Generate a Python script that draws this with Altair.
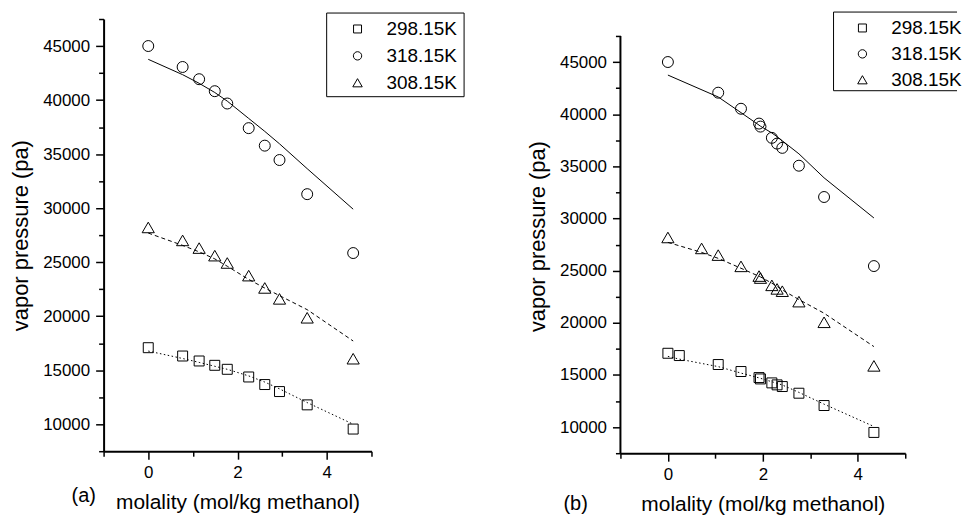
import altair as alt
import pandas as pd

SERIES = ["298.15K", "318.15K", "308.15K"]
SHAPES = ["square", "circle", "triangle-up"]
SIZES = [100, 121, 150]
LEG_SIZES = [64, 70, 90]
DASHES = [[1.5, 2.5], [], [4, 3]]

# ---- panel (a) ----
a_x = [0, 0.77, 1.14, 1.49, 1.77, 2.25, 2.61, 2.94, 3.56, 4.59]
a_298 = [17080, 16310, 15850, 15450, 15080, 14370, 13670, 13020, 11790, 9550]
a_318 = [45000, 43060, 41930, 40820, 39680, 37400, 35780, 34450, 31290, 25840]
a_308 = [28210, 27010, 26300, 25600, 24920, 23750, 22610, 21600, 19850, 16060]
a_fit_298 = [16770, 16080, 15720, 15360, 15080, 14470, 13900, 13270, 12000, 10000]
a_fit_318 = [43770, 42350, 41550, 40700, 39900, 38300, 37100, 35950, 33650, 29900]
a_fit_308 = [27690, 26550, 25950, 25300, 24620, 23400, 22600, 21900, 20600, 17700]

# ---- panel (b) ----
b_x_298 = [0, 0.24, 1.06, 1.54, 1.92, 1.95, 2.19, 2.30, 2.41, 2.76, 3.29, 4.34]
b_298 = [17080, 16860, 16000, 15330, 14750, 14620, 14240, 14050, 13890, 13250, 12070, 9490]
b_x_318 = [0, 1.06, 1.54, 1.92, 1.95, 2.19, 2.30, 2.41, 2.76, 3.29, 4.34]
b_318 = [45000, 42060, 40520, 39100, 38810, 37730, 37180, 36770, 35060, 32060, 25440]
b_x_308 = [0, 0.71, 1.06, 1.54, 1.92, 1.95, 2.19, 2.30, 2.41, 2.76, 3.29, 4.34]
b_308 = [28180, 27130, 26490, 25410, 24480, 24290, 23590, 23250, 23030, 22030, 20050, 15870]
b_fit_298 = [16780, 16520, 15800, 15180, 14720, 14680, 14350, 14200, 14040, 13330, 12200, 10060]
b_fit_318 = [43750, 41650, 40150, 38950, 38850, 38200, 37850, 37450, 36200, 33900, 30050]
b_fit_308 = [27710, 26750, 26180, 25230, 24460, 24400, 23800, 23500, 23150, 22230, 20920, 17720]

Y_TICKS = list(range(7500, 47501, 2500))
Y_AXIS_RANGE = [7500, 47500]
X_TICKS = [-1, 0, 1, 2, 3, 4, 5]
FONT = "Liberation Sans"


def xy_df(xs, ys):
    return pd.DataFrame({"x": xs, "y": ys})


def encodings(ymax, show_domain):
    xenc = alt.X(
        "x:Q",
        scale=alt.Scale(domain=[-1, 5], nice=False, zero=False),
        axis=alt.Axis(
            values=X_TICKS,
            labelExpr="(datum.value >= 0 && datum.value % 2 === 0) ? datum.label : ''",
            title="molality (mol/kg methanol)",
            tickSize={"condition": {"test": "datum.value % 2 === 0", "value": 8}, "value": 5},
            labelPadding=5,
            titlePadding=12,
        ),
    )
    yenc = alt.Y(
        "y:Q",
        scale=alt.Scale(domain=[7500, ymax], nice=False, zero=False),
        axis=alt.Axis(
            values=Y_TICKS,
            labelExpr="datum.value % 5000 === 0 ? format(datum.value, 'd') : ''",
            title="vapor pressure (pa)",
            tickSize={"condition": {"test": "datum.value % 5000 === 0", "value": 8}, "value": 5},
            labelPadding=6,
            titlePadding=10,
            domain=show_domain,
        ),
    )
    return xenc, yenc


def legend_layers(x0, x1, y0, y1, sym_x, txt_x, rows_y, full_box):
    one = pd.DataFrame({"k": [0]})
    layers = []
    if full_box:
        layers.append(
            alt.Chart(one).mark_rect(fill="white", stroke="black", strokeWidth=1).encode(
                x=alt.value(x0), x2=alt.value(x1), y=alt.value(y0), y2=alt.value(y1)
            )
        )
    else:
        layers.append(alt.Chart(one).mark_rule(color="black", strokeWidth=1).encode(
            x=alt.value(x0), x2=alt.value(x1), y=alt.value(y0)))
        layers.append(alt.Chart(one).mark_rule(color="black", strokeWidth=1).encode(
            x=alt.value(x0), x2=alt.value(x1), y=alt.value(y1)))
        layers.append(alt.Chart(one).mark_rule(color="black", strokeWidth=1).encode(
            x=alt.value(x0), y=alt.value(y0), y2=alt.value(y1)))
    for name, shp, sz, ry in zip(SERIES, SHAPES, LEG_SIZES, rows_y):
        d = pd.DataFrame({"t": [name]})
        layers.append(
            alt.Chart(d).mark_point(shape=shp, size=sz, color="black", strokeWidth=1,
                                    filled=False, opacity=1)
            .encode(x=alt.value(sym_x), y=alt.value(ry))
        )
        layers.append(
            alt.Chart(d).mark_text(align="left", baseline="middle", fontSize=19,
                                   font=FONT, color="black")
            .encode(x=alt.value(txt_x), y=alt.value(ry), text="t:N")
        )
    return layers


def panel(pts, fits, w, h, ymax, own_domain, leg, tag, tx, ty):
    xenc, yenc = encodings(ymax, not own_domain)
    layers = []
    for (xs, ys), dash in zip(fits, DASHES):
        kw = {"strokeDash": dash} if dash else {}
        layers.append(
            alt.Chart(xy_df(xs, ys)).mark_line(color="black", strokeWidth=1, **kw)
            .encode(x=xenc, y=yenc, order="x:Q")
        )
    for (xs, ys), shp, sz in zip(pts, SHAPES, SIZES):
        layers.append(
            alt.Chart(xy_df(xs, ys)).mark_point(shape=shp, size=sz, color="black",
                                                strokeWidth=1, filled=False, opacity=1)
            .encode(x=xenc, y=yenc)
        )
    if own_domain:
        dom = pd.DataFrame({"y": [Y_AXIS_RANGE[0]], "y2": [Y_AXIS_RANGE[1]]})
        layers.append(
            alt.Chart(dom).mark_rule(color="black", strokeWidth=2)
            .encode(x=alt.value(0), y=yenc, y2="y2:Q")
        )
    layers += legend_layers(*leg)
    layers.append(
        alt.Chart(pd.DataFrame({"t": [tag]})).mark_text(fontSize=20, font=FONT, color="black")
        .encode(x=alt.value(tx), y=alt.value(ty), text="t:N")
    )
    return alt.layer(*layers).properties(width=w, height=h)


left = panel(
    [(a_x, a_298), (a_x, a_318), (a_x, a_308)],
    [(a_x, a_fit_298), (a_x, a_fit_318), (a_x, a_fit_308)],
    269, 434, 47500, False,
    (224, 362, -6, 78, 255, 284, [10, 37, 64], True),
    "(a)", -20, 479,
)
right = panel(
    [(b_x_298, b_298), (b_x_318, b_318), (b_x_308, b_308)],
    [(b_x_298, b_fit_298), (b_x_318, b_fit_318), (b_x_308, b_fit_308)],
    286, 436, 49123, True,
    (214, 338, -7, 72, 243, 272, [9, 35, 61], False),
    "(b)", -45, 487,
)

chart = (
    alt.hconcat(left, right, spacing=61)
    .configure_view(stroke=None)
    .configure_axis(
        grid=False,
        domainColor="black",
        domainWidth=2,
        tickColor="black",
        tickWidth=1.5,
        labelColor="black",
        labelFont=FONT,
        labelFontSize=17,
        titleFont=FONT,
        titleFontSize=21,
        titleFontWeight="normal",
        titleColor="black",
    )
    .configure_axisY(titleFontSize=22)
    .properties(padding={"left": 1, "top": 2, "right": 0, "bottom": 0}, background="white")
)

chart.save("out.html", embed_options={"renderer": "svg", "actions": False})
